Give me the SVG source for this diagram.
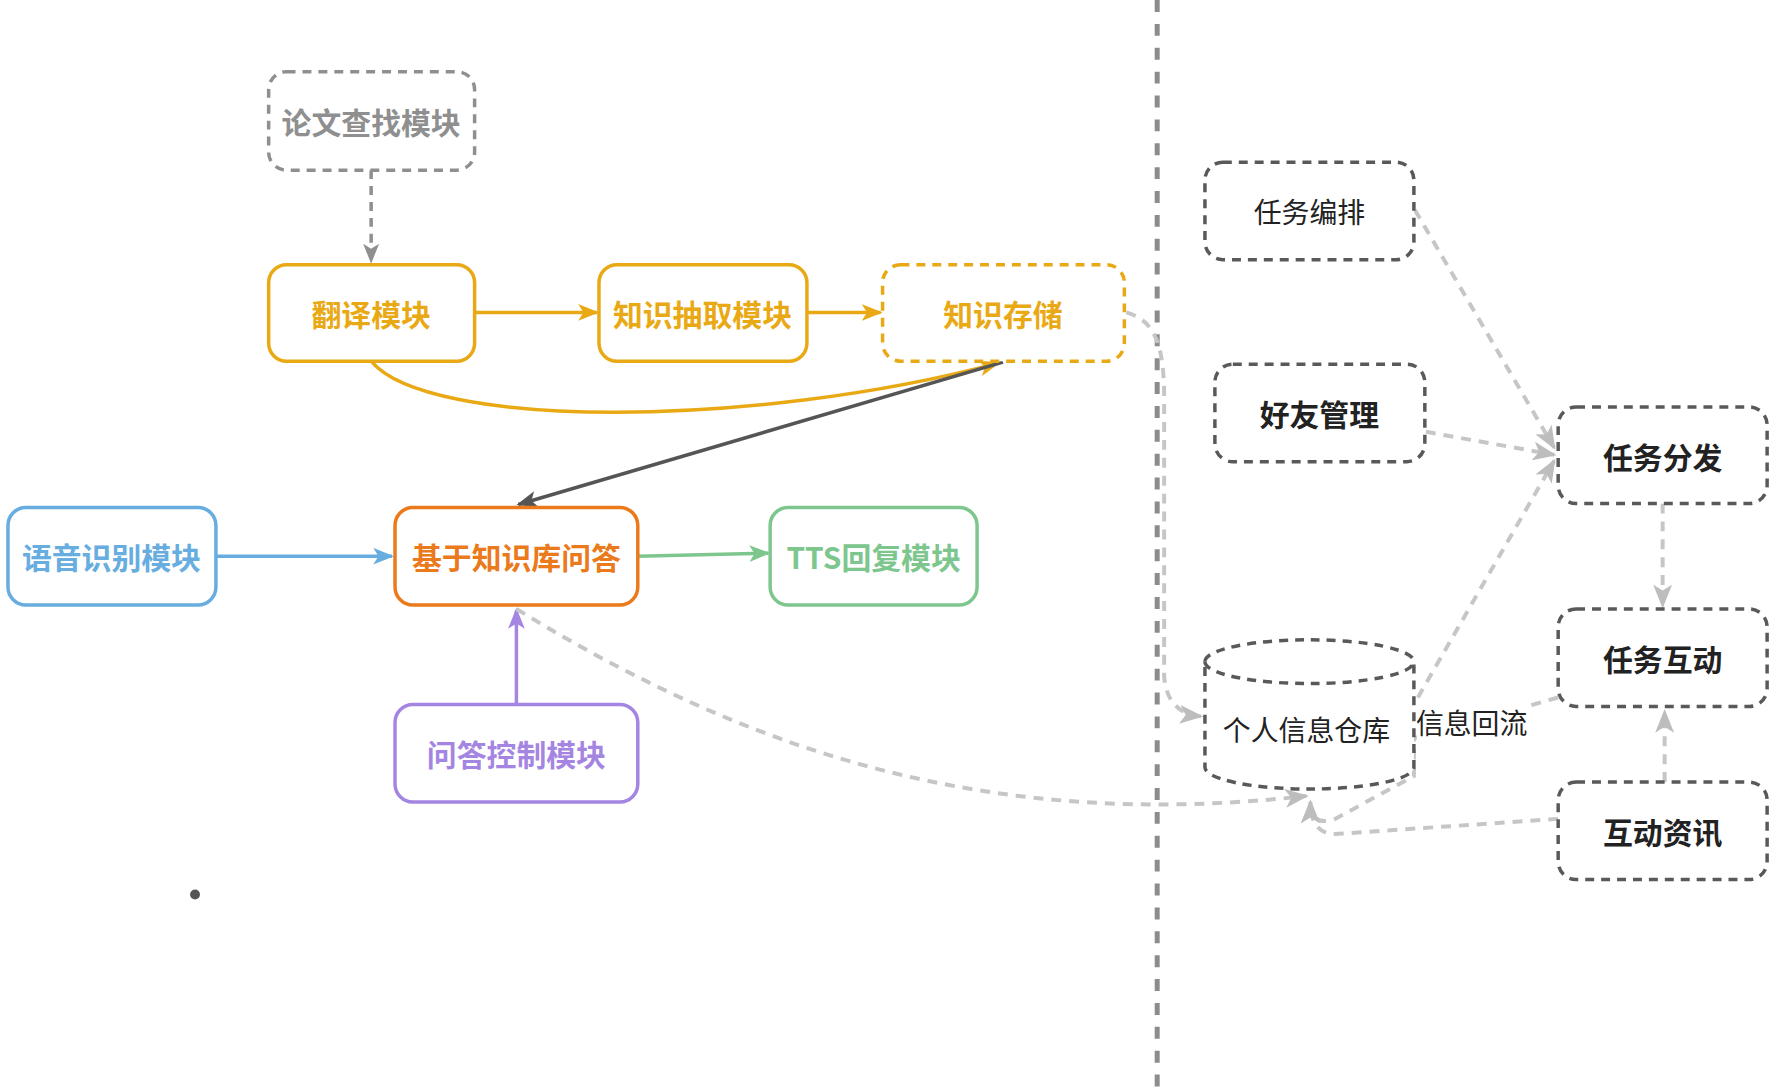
<svg xmlns="http://www.w3.org/2000/svg" width="1779" height="1092" viewBox="0 0 1779 1092">
<style>
text{font-family:"Noto Sans CJK SC","Noto Sans",sans-serif;text-anchor:middle}
.b{font-weight:bold;font-size:30px}
.n{font-weight:normal;font-size:28px;fill:#222}
.box{fill:#fff;stroke-width:3.5}
.dash{stroke-dasharray:9 7}
.gray{stroke:#8f8f8f}
.yel{stroke:#e9a915}
.blu{stroke:#67ade0}
.org{stroke:#ea7a1c}
.grn{stroke:#7dc68d}
.pur{stroke:#a585e2}
.dk{stroke:#595959}
.c{fill:none;stroke-width:3.5}
.lt{stroke:#c6c6c6;stroke-width:4;stroke-dasharray:10 8}
</style>
<defs>
<marker id="mg" viewBox="0 0 20 16" refX="18" refY="8" markerWidth="20" markerHeight="16" markerUnits="userSpaceOnUse" orient="auto"><path d="M0,0 L20,8 L0,16 L5,8 Z" fill="#8f8f8f"/></marker>
<marker id="my" viewBox="0 0 20 16" refX="18" refY="8" markerWidth="21" markerHeight="17" markerUnits="userSpaceOnUse" orient="auto"><path d="M0,0 L20,8 L0,16 L5,8 Z" fill="#e9a915"/></marker>
<marker id="md" viewBox="0 0 20 16" refX="18" refY="8" markerWidth="21" markerHeight="17" markerUnits="userSpaceOnUse" orient="auto"><path d="M0,0 L20,8 L0,16 L5,8 Z" fill="#555"/></marker>
<marker id="mb" viewBox="0 0 20 16" refX="18" refY="8" markerWidth="21" markerHeight="17" markerUnits="userSpaceOnUse" orient="auto"><path d="M0,0 L20,8 L0,16 L5,8 Z" fill="#67ade0"/></marker>
<marker id="mgr" viewBox="0 0 20 16" refX="18" refY="8" markerWidth="21" markerHeight="17" markerUnits="userSpaceOnUse" orient="auto"><path d="M0,0 L20,8 L0,16 L5,8 Z" fill="#7dc68d"/></marker>
<marker id="mp" viewBox="0 0 20 16" refX="18" refY="8" markerWidth="21" markerHeight="17" markerUnits="userSpaceOnUse" orient="auto"><path d="M0,0 L20,8 L0,16 L5,8 Z" fill="#a585e2"/></marker>
<marker id="ml" viewBox="0 0 20 16" refX="18" refY="8" markerWidth="24" markerHeight="19" markerUnits="userSpaceOnUse" orient="auto"><path d="M0,0 L20,8 L0,16 L5,8 Z" fill="#bdbdbd"/></marker>
</defs>
<rect width="1779" height="1092" fill="#fff"/>
<g transform="scale(0.995)">
<line x1="1163" y1="0" x2="1163" y2="1100" stroke="#8c8c8c" stroke-width="5" stroke-dasharray="12 12"/>
<g id="connectors">
<path class="c gray dash" d="M373,171 L373,263" marker-end="url(#mg)"/>
<path class="c yel" d="M477,314 L600,314" marker-end="url(#my)"/>
<path class="c yel" d="M811,314 L885,314" marker-end="url(#my)"/>
<path class="c yel" d="M373,363 C430,432 760,430 1003,365" marker-end="url(#my)"/>
<path class="c" stroke="#555" d="M1008,364 L521,507" marker-end="url(#md)"/>
<path class="c blu" d="M217,559 L394,559" marker-end="url(#mb)"/>
<path class="c grn" d="M641,559 L772,556" marker-end="url(#mgr)"/>
<path class="c pur" d="M519,708 L519,613" marker-end="url(#mp)"/>
<path class="c lt" d="M519,612 C760,760 1000,835 1313,800" marker-end="url(#ml)"/>
<path class="c lt" d="M1132,314 C1160,322 1170,345 1170,400 L1170,680 C1172,705 1185,718 1207,720" marker-end="url(#ml)"/>
<path class="c lt" d="M1422,211 L1562,450" marker-end="url(#ml)"/>
<path class="c lt" d="M1433,434 L1562,457" marker-end="url(#ml)"/>
<path class="c lt" d="M1425,701 L1562,463" marker-end="url(#ml)"/>
<path class="c lt" d="M1671,506 L1671,609" marker-end="url(#ml)"/>
<path class="c lt" d="M1673,786 L1673,715" marker-end="url(#ml)"/>
<path class="c lt" d="M1566,701 L1421,742 L1421,780 L1340,824 Q1317,830 1317,806" marker-end="url(#ml)"/>
<path class="c lt" d="M1566,823 L1345,838 Q1317,840 1317,806" marker-end="url(#ml)"/>
<g id="label-xinxihuiliu"><rect x="1424" y="708" width="110" height="38" fill="#fff"/><text class="n" x="1479" y="738">信息回流</text></g>
</g>
<g id="n-lunwen"><rect class="box gray dash" x="270" y="72" width="207" height="99" rx="18"/><text class="b" x="373" y="135" fill="#8f8f8f">论文查找模块</text></g>
<g id="n-fanyi"><rect class="box yel" x="270" y="266" width="207" height="97" rx="18"/><text class="b" x="373" y="328" fill="#e9a915">翻译模块</text></g>
<g id="n-chouqu"><rect class="box yel" x="602" y="266" width="209" height="97" rx="18"/><text class="b" x="706" y="328" fill="#e9a915">知识抽取模块</text></g>
<g id="n-cunchu"><rect class="box yel dash" x="887" y="266" width="243" height="97" rx="18"/><text class="b" x="1008" y="328" fill="#e9a915">知识存储</text></g>
<g id="n-yuyin"><rect class="box blu" x="8" y="510" width="209" height="98" rx="18"/><text class="b" x="112" y="572" fill="#67ade0">语音识别模块</text></g>
<g id="n-qa"><rect class="box org" x="397" y="510" width="244" height="98" rx="18"/><text class="b" x="519" y="572" fill="#ea7a1c">基于知识库问答</text></g>
<g id="n-tts"><rect class="box grn" x="774" y="510" width="208" height="98" rx="18"/><text class="b" x="878" y="572" fill="#7dc68d">TTS回复模块</text></g>
<g id="n-kongzhi"><rect class="box pur" x="397" y="708" width="244" height="98" rx="18"/><text class="b" x="519" y="770" fill="#a585e2">问答控制模块</text></g>
<g id="n-bianpai"><rect class="box dk dash" x="1211" y="163" width="210" height="98" rx="18"/><text class="n" x="1316" y="224">任务编排</text></g>
<g id="n-haoyou"><rect class="box dk dash" x="1221" y="366" width="211" height="98" rx="18"/><text class="b" x="1326" y="428" fill="#222">好友管理</text></g>
<g id="n-fenfa"><rect class="box dk dash" x="1566" y="409" width="210" height="97" rx="18"/><text class="b" x="1671" y="471" fill="#222">任务分发</text></g>
<g id="n-hudong"><rect class="box dk dash" x="1566" y="612" width="210" height="98" rx="18"/><text class="b" x="1671" y="674" fill="#222">任务互动</text></g>
<g id="n-zixun"><rect class="box dk dash" x="1566" y="786" width="210" height="98" rx="18"/><text class="b" x="1671" y="848" fill="#222">互动资讯</text></g>
<g id="n-cangku">
<path class="box dk dash" d="M1211,665 A105,22 0 0 1 1421,665 L1421,771 A105,22 0 0 1 1211,771 Z"/>
<path class="c dk dash" d="M1211,665 A105,22 0 0 0 1421,665"/>
<text class="n" x="1313" y="745">个人信息仓库</text>
</g>
<circle cx="196" cy="899" r="5" fill="#555"/>
</g>
</svg>
